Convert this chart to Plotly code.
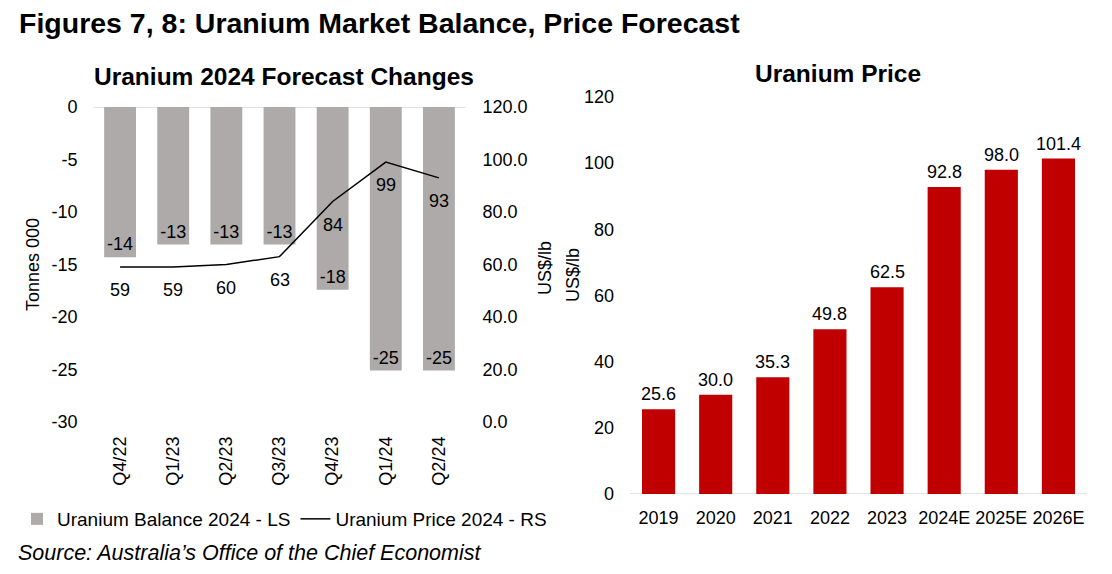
import plotly.graph_objects as go

# ---- data ----
quarters = ["Q4/22", "Q1/23", "Q2/23", "Q3/23", "Q4/23", "Q1/24", "Q2/24"]
balance = [-14.3, -13.1, -13.1, -13.1, -17.4, -25.1, -25.1]
balance_labels = ["-14", "-13", "-13", "-13", "-18", "-25", "-25"]
price_q = [59, 59, 60, 63, 84, 99, 93]

years = ["2019", "2020", "2021", "2022", "2023", "2024E", "2025E", "2026E"]
price_y = [25.6, 30.0, 35.3, 49.8, 62.5, 92.8, 98.0, 101.4]

left_ticks = [0, -5, -10, -15, -20, -25, -30]
right_ticks = [0, 20, 40, 60, 80, 100, 120]

# page body has an 8px margin: size the figure to fit the 1112x574 window
OFF = 8
W, H = 1112 - 2 * OFF, 574 - 2 * OFF
FONT = "Liberation Sans, Arial, sans-serif"
GRAY = "#AEAAAA"
RED = "#C00000"


def fx(p):
    return (p - OFF) / W


def fy(p):
    return 1 - (p - OFF) / H


fig = go.Figure()

fig.add_trace(go.Bar(
    x=quarters, y=balance, name="Uranium Balance 2024 - LS",
    marker=dict(color=GRAY, line=dict(width=0)),
    text=balance_labels, textposition="inside", insidetextanchor="end",
    textangle=0, constraintext="none",
    textfont=dict(color="black", size=18, family=FONT),
    width=0.6, xaxis="x", yaxis="y",
))
fig.add_trace(go.Scatter(
    x=quarters, y=price_q, name="Uranium Price 2024 - RS",
    mode="lines", line=dict(color="black", width=1.5),
    xaxis="x", yaxis="y2",
))
fig.add_trace(go.Bar(
    x=years, y=price_y, name="Uranium Price", showlegend=False,
    marker=dict(color=RED, line=dict(width=0)),
    width=0.58, xaxis="x3", yaxis="y3",
))

annotations = []
for i, p in enumerate(price_q):
    annotations.append(dict(
        x=i, y=p, xref="x", yref="y2", text=str(p), showarrow=False,
        yshift=-23, font=dict(size=18, color="black", family=FONT),
    ))
for i, v in enumerate(price_y):
    annotations.append(dict(
        x=i, y=v, xref="x3", yref="y3", text=f"{v:.1f}", showarrow=False,
        yanchor="bottom", yshift=3, font=dict(size=18, color="black", family=FONT),
    ))

annotations += [
    dict(text="<b>Figures 7, 8: Uranium Market Balance, Price Forecast</b>",
         x=fx(17), y=fy(23), xref="paper", yref="paper", xanchor="left", yanchor="middle",
         showarrow=False, font=dict(size=28.5, color="black", family=FONT)),
    dict(text="<b>Uranium 2024 Forecast Changes</b>",
         x=fx(284), y=fy(76), xref="paper", yref="paper", xanchor="center", yanchor="middle",
         showarrow=False, font=dict(size=24.5, color="black", family=FONT)),
    dict(text="<b>Uranium Price</b>",
         x=fx(838), y=fy(73), xref="paper", yref="paper", xanchor="center", yanchor="middle",
         showarrow=False, font=dict(size=24.5, color="black", family=FONT)),
    dict(text="<i>Source: Australia’s Office of the Chief Economist</i>",
         x=fx(16), y=fy(553), xref="paper", yref="paper", xanchor="left", yanchor="middle",
         showarrow=False, font=dict(size=21.5, color="black", family=FONT)),
    dict(text="Tonnes 000", textangle=-90,
         x=fx(33), y=fy(265), xref="paper", yref="paper", xanchor="center", yanchor="middle",
         showarrow=False, font=dict(size=18, color="black", family=FONT)),
    dict(text="US$/lb", textangle=-90,
         x=fx(545), y=fy(268), xref="paper", yref="paper", xanchor="center", yanchor="middle",
         showarrow=False, font=dict(size=18, color="black", family=FONT)),
    dict(text="US$/lb", textangle=-90,
         x=fx(573), y=fy(275), xref="paper", yref="paper", xanchor="center", yanchor="middle",
         showarrow=False, font=dict(size=18, color="black", family=FONT)),
]

shapes = [
    dict(type="line", xref="x domain", yref="y", x0=0, x1=1, y0=0, y1=0,
         line=dict(color="#D9D9D9", width=1.5), layer="below"),
    dict(type="line", xref="x3 domain", yref="y3", x0=0, x1=1, y0=0, y1=0,
         line=dict(color="#D9D9D9", width=1.5), layer="below"),
]

tickfont = dict(size=18, color="black", family=FONT)
common = dict(showgrid=False, zeroline=False, showline=False, ticks="", tickfont=tickfont,
              automargin=False)

fig.update_layout(
    width=W, height=H,
    margin=dict(l=0, r=0, t=0, b=0, pad=0, autoexpand=False),
    paper_bgcolor="white", plot_bgcolor="white",
    font=dict(family=FONT, color="black", size=18),
    showlegend=True,
    legend=dict(orientation="h", x=fx(17), y=fy(519), xanchor="left", yanchor="middle",
                font=dict(size=19, color="black", family=FONT), bgcolor="rgba(0,0,0,0)",
                itemwidth=30, tracegroupgap=0),
    xaxis=dict(domain=[fx(93.5), fx(465.5)], type="category", tickangle=-90,
               categoryorder="array", categoryarray=quarters,
               range=[-0.5, len(quarters) - 0.5],
               anchor="y", ticklabelstandoff=10, **common),
    yaxis=dict(range=[-30, 0], tickvals=left_ticks, ticktext=[str(v) for v in left_ticks],
               domain=[fy(422), fy(107)], anchor="x", ticklabelstandoff=15, **common),
    yaxis2=dict(range=[0, 120], tickvals=right_ticks, ticktext=[f"{v:.1f}" for v in right_ticks],
                overlaying="y", side="right", anchor="x", ticklabelstandoff=16, **common),
    xaxis3=dict(domain=[fx(630), fx(1087)], type="category",
                categoryorder="array", categoryarray=years,
                range=[-0.5, len(years) - 0.5], anchor="y3",
                ticklabelstandoff=11, **common),
    yaxis3=dict(range=[0, 120], tickvals=right_ticks, ticktext=[str(v) for v in right_ticks],
                domain=[fy(494), fy(97)], anchor="x3", ticklabelstandoff=15, **common),
    annotations=annotations,
    shapes=shapes,
)

fig.write_html("out.html")
